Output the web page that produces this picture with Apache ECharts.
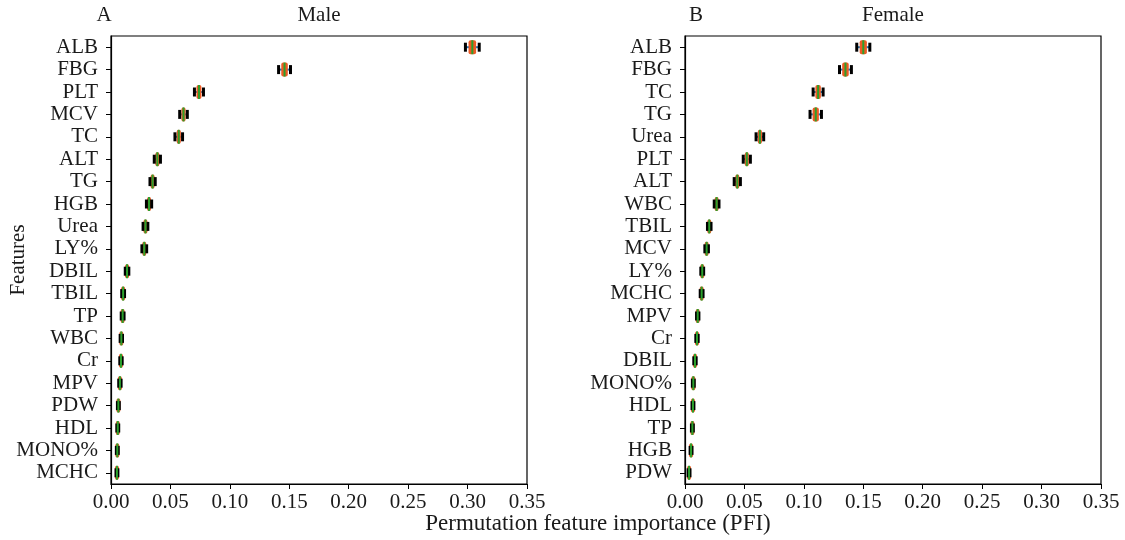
<!DOCTYPE html>
<html><head><meta charset="utf-8">
<script src="https://cdn.jsdelivr.net/npm/echarts@6/dist/echarts.min.js"></script>
<style>html,body{margin:0;padding:0;background:#fff}#c{width:1125px;height:540px}</style>
</head><body><div id="c"></div>
<script>
const maleFeatures = ['ALB','FBG','PLT','MCV','TC','ALT','TG','HGB','Urea','LY%','DBIL','TBIL','TP','WBC','Cr','MPV','PDW','HDL','MONO%','MCHC'];
const maleMean = [0.304,0.146,0.074,0.061,0.057,0.039,0.035,0.032,0.029,0.028,0.0135,0.0102,0.0098,0.0087,0.0084,0.0075,0.0062,0.0057,0.0053,0.0050];
const maleErr  = [0.0058,0.005,0.0038,0.0032,0.0032,0.0026,0.0022,0.0022,0.002,0.002,0.0015,0.0012,0.0012,0.001,0.001,0.001,0.0008,0.0008,0.0008,0.0008];

const femaleFeatures = ['ALB','FBG','TC','TG','Urea','PLT','ALT','WBC','TBIL','MCV','LY%','MCHC','MPV','Cr','DBIL','MONO%','HDL','TP','HGB','PDW'];
const femaleMean = [0.150,0.135,0.112,0.110,0.063,0.052,0.044,0.0266,0.0204,0.0182,0.0145,0.0140,0.0107,0.0101,0.0084,0.0070,0.0067,0.0062,0.0051,0.0034];
const femaleErr  = [0.0055,0.005,0.0042,0.0048,0.0032,0.003,0.0026,0.002,0.0015,0.0015,0.0012,0.0012,0.001,0.001,0.001,0.0008,0.0008,0.0008,0.0008,0.0008];

const FONT = 'Liberation Serif';

function mkData(feats, mean, err){
  return feats.map((f,i)=>[f, mean[i], mean[i]-err[i], mean[i]+err[i]]);
}

function renderItem(params, api){
  const cat = api.value(0);
  const m = api.coord([api.value(1), cat]);
  const lo = api.coord([api.value(2), cat]);
  const hi = api.coord([api.value(3), cat]);
  const y = m[1];
  const span = hi[0]-lo[0];
  const bw = Math.max(4, Math.min(8, span*0.55));
  const children = [
    {type:'line', shape:{x1:lo[0],y1:y,x2:hi[0],y2:y}, style:{stroke:'#1f77b4', lineWidth:2}},
    {type:'rect', shape:{x:m[0]-bw/2, y:y-7, width:bw, height:14, r:2}, style:{fill:'#ee5a24'}},
    {type:'rect', shape:{x:lo[0]-1.5, y:y-4.5, width:3, height:9}, style:{fill:'#000'}},
    {type:'rect', shape:{x:hi[0]-1.5, y:y-4.5, width:3, height:9}, style:{fill:'#000'}},
    {type:'line', shape:{x1:m[0],y1:y-7,x2:m[0],y2:y+7}, style:{stroke:'#2ca02c', lineWidth:2}}
  ];
  return {type:'group', children};
}

const chart = echarts.init(document.getElementById('c'));

function xAxis(gi){
  return {type:'value', gridIndex:gi, min:0, max:0.35, interval:0.05,
    axisLine:{show:true, lineStyle:{color:'#000', width:1.2}},
    axisTick:{show:true, length:5, lineStyle:{color:'#000'}},
    splitLine:{show:false},
    axisLabel:{color:'#1a1a1a', fontFamily:FONT, fontSize:21, margin:8,
      formatter:v=>v.toFixed(2)}};
}
function yAxis(gi, feats, name){
  return {type:'category', gridIndex:gi, data:feats, inverse:true,
    name:name, nameLocation:'middle', nameGap:82, nameMoveOverlap:false,
    nameTextStyle:{color:'#1a1a1a', fontFamily:FONT, fontSize:21},
    axisLine:{show:true, lineStyle:{color:'#000', width:1.2}},
    axisTick:{show:true, alignWithLabel:true, interval:0, length:5, lineStyle:{color:'#000'}},
    splitLine:{show:false},
    axisLabel:{color:'#1a1a1a', fontFamily:FONT, fontSize:21, margin:13, interval:0}};
}

chart.setOption({
  animation:false,
  backgroundColor:'#fff',
  grid:[
    {left:111, right:598, top:36, bottom:56, containLabel:false, outerBoundsMode:'none', show:true, borderColor:'#000', borderWidth:1.2},
    {left:685, right:24, top:36, bottom:56, containLabel:false, outerBoundsMode:'none', show:true, borderColor:'#000', borderWidth:1.2}
  ],
  xAxis:[xAxis(0), xAxis(1)],
  yAxis:[yAxis(0, maleFeatures, 'Features'), yAxis(1, femaleFeatures, '')],
  series:[
    {type:'custom', xAxisIndex:0, yAxisIndex:0, renderItem, encode:{x:[1,2,3], y:0}, data:mkData(maleFeatures, maleMean, maleErr)},
    {type:'custom', xAxisIndex:1, yAxisIndex:1, renderItem, encode:{x:[1,2,3], y:0}, data:mkData(femaleFeatures, femaleMean, femaleErr)}
  ],
  graphic:[
    {type:'text', x:104, y:15, style:{text:'A', font:'21px "Liberation Serif"', fill:'#1a1a1a', align:'center', verticalAlign:'middle'}},
    {type:'text', x:319, y:15, style:{text:'Male', font:'21px "Liberation Serif"', fill:'#1a1a1a', align:'center', verticalAlign:'middle'}},
    {type:'text', x:696, y:15, style:{text:'B', font:'21px "Liberation Serif"', fill:'#1a1a1a', align:'center', verticalAlign:'middle'}},
    {type:'text', x:893, y:15, style:{text:'Female', font:'21px "Liberation Serif"', fill:'#1a1a1a', align:'center', verticalAlign:'middle'}},
    {type:'text', x:598, y:524, style:{text:'Permutation feature importance (PFI)', font:'23px "Liberation Serif"', fill:'#1a1a1a', align:'center', verticalAlign:'middle'}}
  ]
});
</script></body></html>
